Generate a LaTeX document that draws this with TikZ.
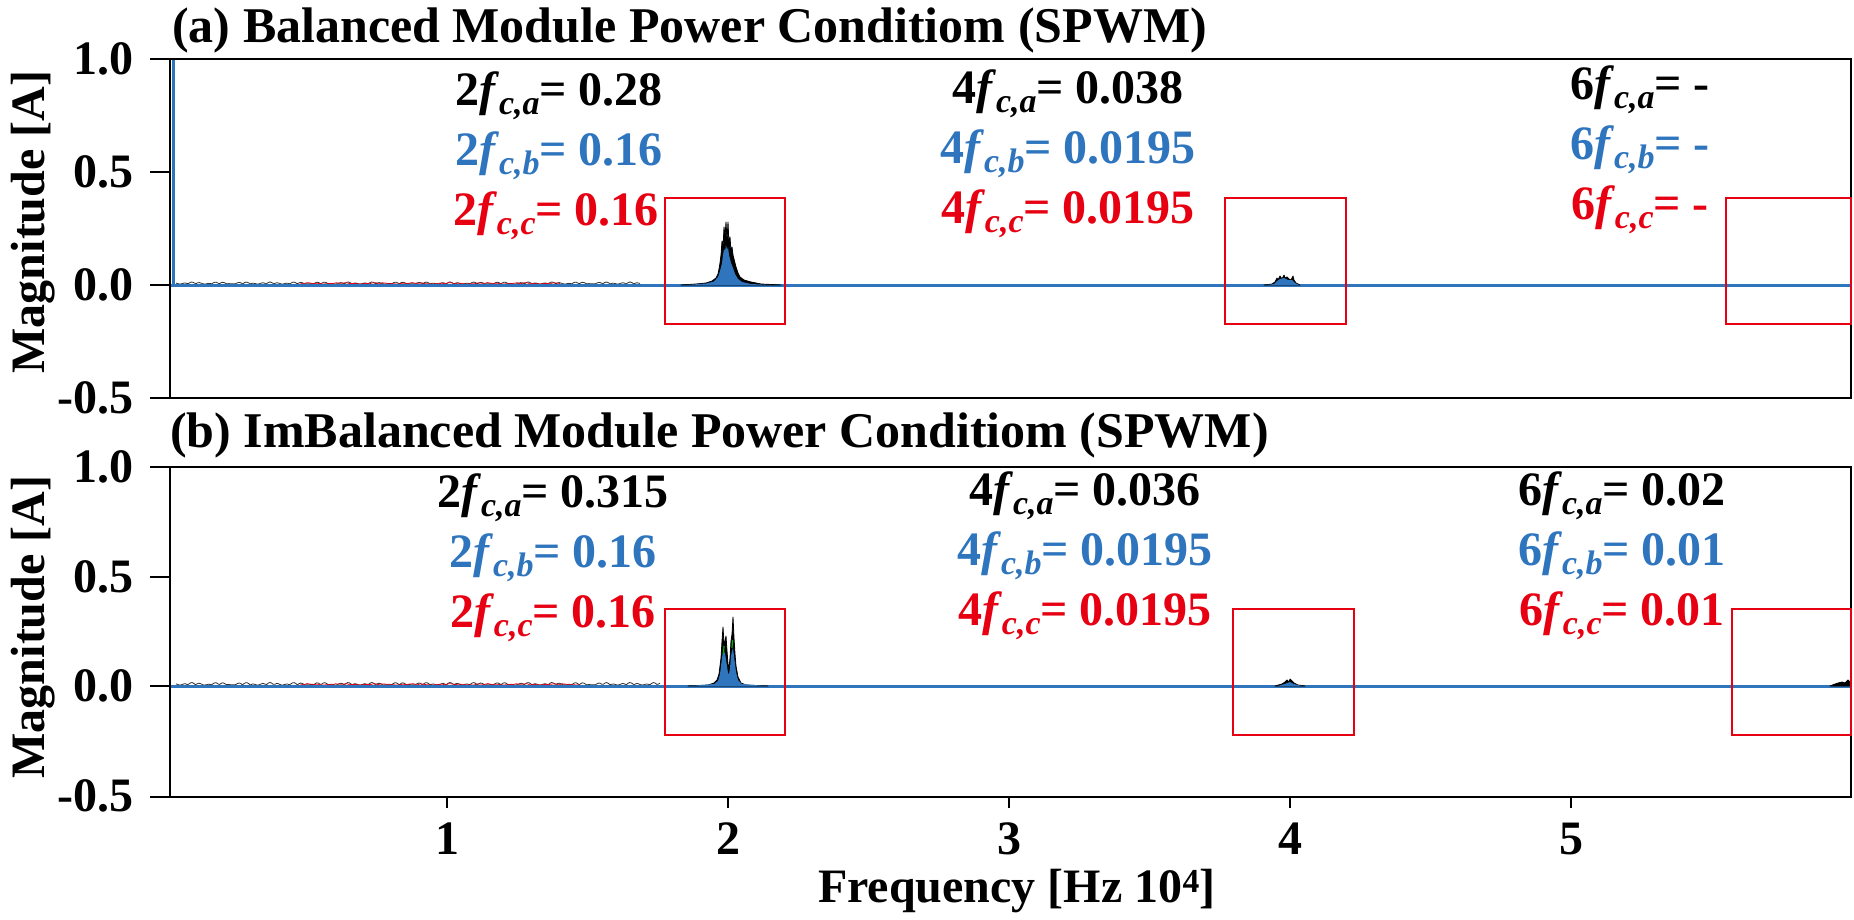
\documentclass[tikz,border=0pt]{standalone}
\usepackage{fontspec}
\setmainfont{Liberation Serif}
\definecolor{cblue}{RGB}{46,117,190}
\definecolor{cred}{RGB}{230,0,18}
\newcommand\harm[4]{\textcolor{#4}{#1\textit{f}\raisebox{-9pt}{\fontsize{34}{34}\selectfont\textit{c,#2}}= #3}}
\tikzset{
  frame/.style={line width=2.5pt, black},
  redbox/.style={draw=cred, line width=2.5pt},
  spec/.style={cblue, line width=3pt},
  spikeout/.style={fill=black, draw=black, line width=0.8pt, line join=round},
  spikein/.style={fill=cblue, draw=none},
  lbl/.style={anchor=base},
  tk/.style={line width=1.5pt, black},
}
\begin{document}
\begin{tikzpicture}[x=1pt,y=-1pt, every node/.style={font={\fontsize{48}{56}\selectfont\bfseries}, inner sep=0pt}]
\useasboundingbox (0,0) rectangle (1854,919);
\fill[white] (0,0) rectangle (1854,919);

% ---------------- Panel (a) ----------------
\node[anchor=base west, font={\fontsize{50}{58}\selectfont\bfseries}] (ta) at (172,42) {(a) Balanced Module Power Conditiom (SPWM)};
% spectrum
\draw[black!80, line width=0.8pt] plot[domain=176:640, samples=300] (\x,{285-1-2*abs(sin(\x*23))*abs(sin(\x*7))});
\draw[cred, line width=0.7pt] plot[domain=300:560, samples=80] (\x,{285-1-1.5*abs(sin(\x*19))*abs(sin(\x*5))});
\draw[spec] (171,285) -- (1851,285);
\draw[cblue, line width=3pt] (173,285) -- (173,59);
% spike at 2
\begin{scope}[shift={(726,285)}, yscale=-1]
\fill[spikeout] (-45,0) -- (-30,1) -- (-20,2) -- (-14,4) -- (-10,7) -- (-8,11) -- (-7,16) -- (-6,22) -- (-5,30) -- (-4,44) -- (-3,36) -- (-2,58) -- (-1,48) -- (0,63) -- (1,44) -- (2,63) -- (3,40) -- (4,48) -- (5,33) -- (6,38) -- (7,30) -- (8,26) -- (10,18) -- (12,12) -- (14,8) -- (18,5) -- (25,3) -- (35,1) -- (55,0) -- cycle;
\fill[spikein] (-40,0) -- (-20,1.5) -- (-12,3.5) -- (-8,8) -- (-6,14) -- (-4,22) -- (-3,30) -- (-2,36) -- (-1,34) -- (0,40) -- (1,35) -- (2,38) -- (3,30) -- (5,22) -- (7,17) -- (9,11) -- (12,6) -- (16,3) -- (25,1) -- (45,0) -- cycle;
\end{scope}
% spike at 4
\begin{scope}[shift={(1284,285)}, yscale=-1]
\fill[spikeout] (-20,0) -- (-12,1) -- (-9,3) -- (-7,7) -- (-6,5) -- (-4,9) -- (-2,6) -- (0,10) -- (1,7) -- (3,8) -- (5,6) -- (7,5) -- (9,9) -- (10,5) -- (12,2) -- (16,0) -- cycle;
\fill[spikein] (-18,0) -- (-10,1) -- (-7,4) -- (-4,6) -- (0,7) -- (4,5) -- (8,5) -- (11,2) -- (15,0) -- cycle;
\end{scope}
% frame
\draw[frame] (150,59) -- (1851,59) -- (1851,398) -- (150,398);
\draw[frame] (170,59) -- (170,398);
\draw[frame] (150,172) -- (170,172);
\draw[frame] (150,285) -- (170,285);
% tick labels
\node[anchor=east] (ya1) at (134,59) {1.0};
\node[anchor=east] (ya2) at (134,172) {0.5};
\node[anchor=east] (ya3) at (134,285) {0.0};
\node[anchor=east] (ya4) at (134,398) {-0.5};
\node[rotate=90] (yla) at (33,222) {Magnitude [A]};
% red boxes
\draw[redbox] (665,198) rectangle (785,324);
\draw[redbox] (1225,198) rectangle (1346,324);
\draw[redbox] (1726,198) rectangle (1851,324);
% annotations
\node[lbl] (a2a) at (559,105) {\harm{2}{a}{0.28}{black}};
\node[lbl] (a2b) at (559,165) {\harm{2}{b}{0.16}{cblue}};
\node[lbl] (a2c) at (556,225) {\harm{2}{c}{0.16}{cred}};
\node[lbl] (a4a) at (1068,103) {\harm{4}{a}{0.038}{black}};
\node[lbl] (a4b) at (1068,163) {\harm{4}{b}{0.0195}{cblue}};
\node[lbl] (a4c) at (1068,223) {\harm{4}{c}{0.0195}{cred}};
\node[lbl] (a6a) at (1640,99) {\harm{6}{a}{-}{black}};
\node[lbl] (a6b) at (1640,159) {\harm{6}{b}{-}{cblue}};
\node[lbl] (a6c) at (1640,219) {\harm{6}{c}{-}{cred}};

% ---------------- Panel (b) ----------------
\node[anchor=base west, font={\fontsize{50}{58}\selectfont\bfseries}] (tb) at (170,447) {(b) ImBalanced Module Power Conditiom (SPWM)};
\draw[black!80, line width=0.8pt] plot[domain=176:660, samples=300] (\x,{686-1-2.5*abs(sin(\x*23))*abs(sin(\x*7))});
\draw[cred, line width=0.7pt] plot[domain=300:580, samples=80] (\x,{686-1-1.5*abs(sin(\x*19))*abs(sin(\x*5))});
\draw[spec] (171,686) -- (1851,686);
% spike at 2
\begin{scope}[shift={(728,686)}, yscale=-1]
\fill[spikeout] (-40,0) -- (-20,1) -- (-14,3) -- (-11,6) -- (-9,12) -- (-7,28) -- (-6,45) -- (-5,59) -- (-4,42) -- (-3,45) -- (-2,50) -- (-1,35) -- (0,22) -- (1,17) -- (2,28) -- (3,45) -- (4,52) -- (5,69) -- (6,48) -- (7,32) -- (8,20) -- (10,9) -- (13,3) -- (18,1) -- (40,0) -- cycle;
\fill[spikein] (-38,0) -- (-14,2) -- (-10,5) -- (-8,12) -- (-6,28) -- (-5,35) -- (-3,33) -- (-1,20) -- (0,13) -- (1,12) -- (2,18) -- (3,30) -- (4,35) -- (5,38) -- (6,30) -- (8,14) -- (10,6) -- (14,2) -- (38,0) -- cycle;
\draw[green!70!black, line width=1.2pt] (-4.5,32) -- (-4,40);
\draw[green!70!black, line width=1.2pt] (4,38) -- (4.5,46);
\end{scope}
% spike at 4
\begin{scope}[shift={(1290,686)}, yscale=-1]
\fill[spikeout] (-15,0) -- (-8,2) -- (-5,4) -- (-3,6) -- (-1,4) -- (0,7) -- (2,5) -- (4,3) -- (8,1) -- (15,0) -- cycle;
\fill[spikein] (-12,0) -- (-4,2.5) -- (0,4) -- (4,2) -- (12,0) -- cycle;
\end{scope}
% bump at right edge
\begin{scope}[shift={(0,686)}, yscale=-1]
\fill[spikeout] (1830,0) -- (1835,2) -- (1838,3) -- (1842,4) -- (1845,3) -- (1848,6) -- (1851,3) -- (1851,0) -- cycle;
\end{scope}
% frame
\draw[frame] (150,467) -- (1851,467) -- (1851,797) -- (150,797);
\draw[frame] (170,467) -- (170,797);
\draw[frame] (150,577) -- (170,577);
\draw[frame] (150,686) -- (170,686);
\foreach \xx in {447,728,1009,1290,1571}{
  \draw[tk] (\xx,797) -- (\xx,808);
}
% tick labels
\node[anchor=east] (yb1) at (134,467) {1.0};
\node[anchor=east] (yb2) at (134,577) {0.5};
\node[anchor=east] (yb3) at (134,686) {0.0};
\node[anchor=east] (yb4) at (134,796) {-0.5};
\node[rotate=90] (ylb) at (33,627) {Magnitude [A]};
\node[lbl] (x1) at (447,854) {1};
\node[lbl] (x2) at (728,854) {2};
\node[lbl] (x3) at (1009,854) {3};
\node[lbl] (x4) at (1290,854) {4};
\node[lbl] (x5) at (1571,854) {5};
\node[lbl] (xl) at (1017,902) {Frequency [Hz 10\textsuperscript{4}]};
% red boxes
\draw[redbox] (665,609) rectangle (785,735);
\draw[redbox] (1233,609) rectangle (1354,735);
\draw[redbox] (1732,609) rectangle (1851,735);
% annotations
\node[lbl] (b2a) at (553,507) {\harm{2}{a}{0.315}{black}};
\node[lbl] (b2b) at (553,567) {\harm{2}{b}{0.16}{cblue}};
\node[lbl] (b2c) at (553,627) {\harm{2}{c}{0.16}{cred}};
\node[lbl] (b4a) at (1085,505) {\harm{4}{a}{0.036}{black}};
\node[lbl] (b4b) at (1085,565) {\harm{4}{b}{0.0195}{cblue}};
\node[lbl] (b4c) at (1085,625) {\harm{4}{c}{0.0195}{cred}};
\node[lbl] (b6a) at (1622,505) {\harm{6}{a}{0.02}{black}};
\node[lbl] (b6b) at (1622,565) {\harm{6}{b}{0.01}{cblue}};
\node[lbl] (b6c) at (1622,625) {\harm{6}{c}{0.01}{cred}};
\end{tikzpicture}
\end{document}
